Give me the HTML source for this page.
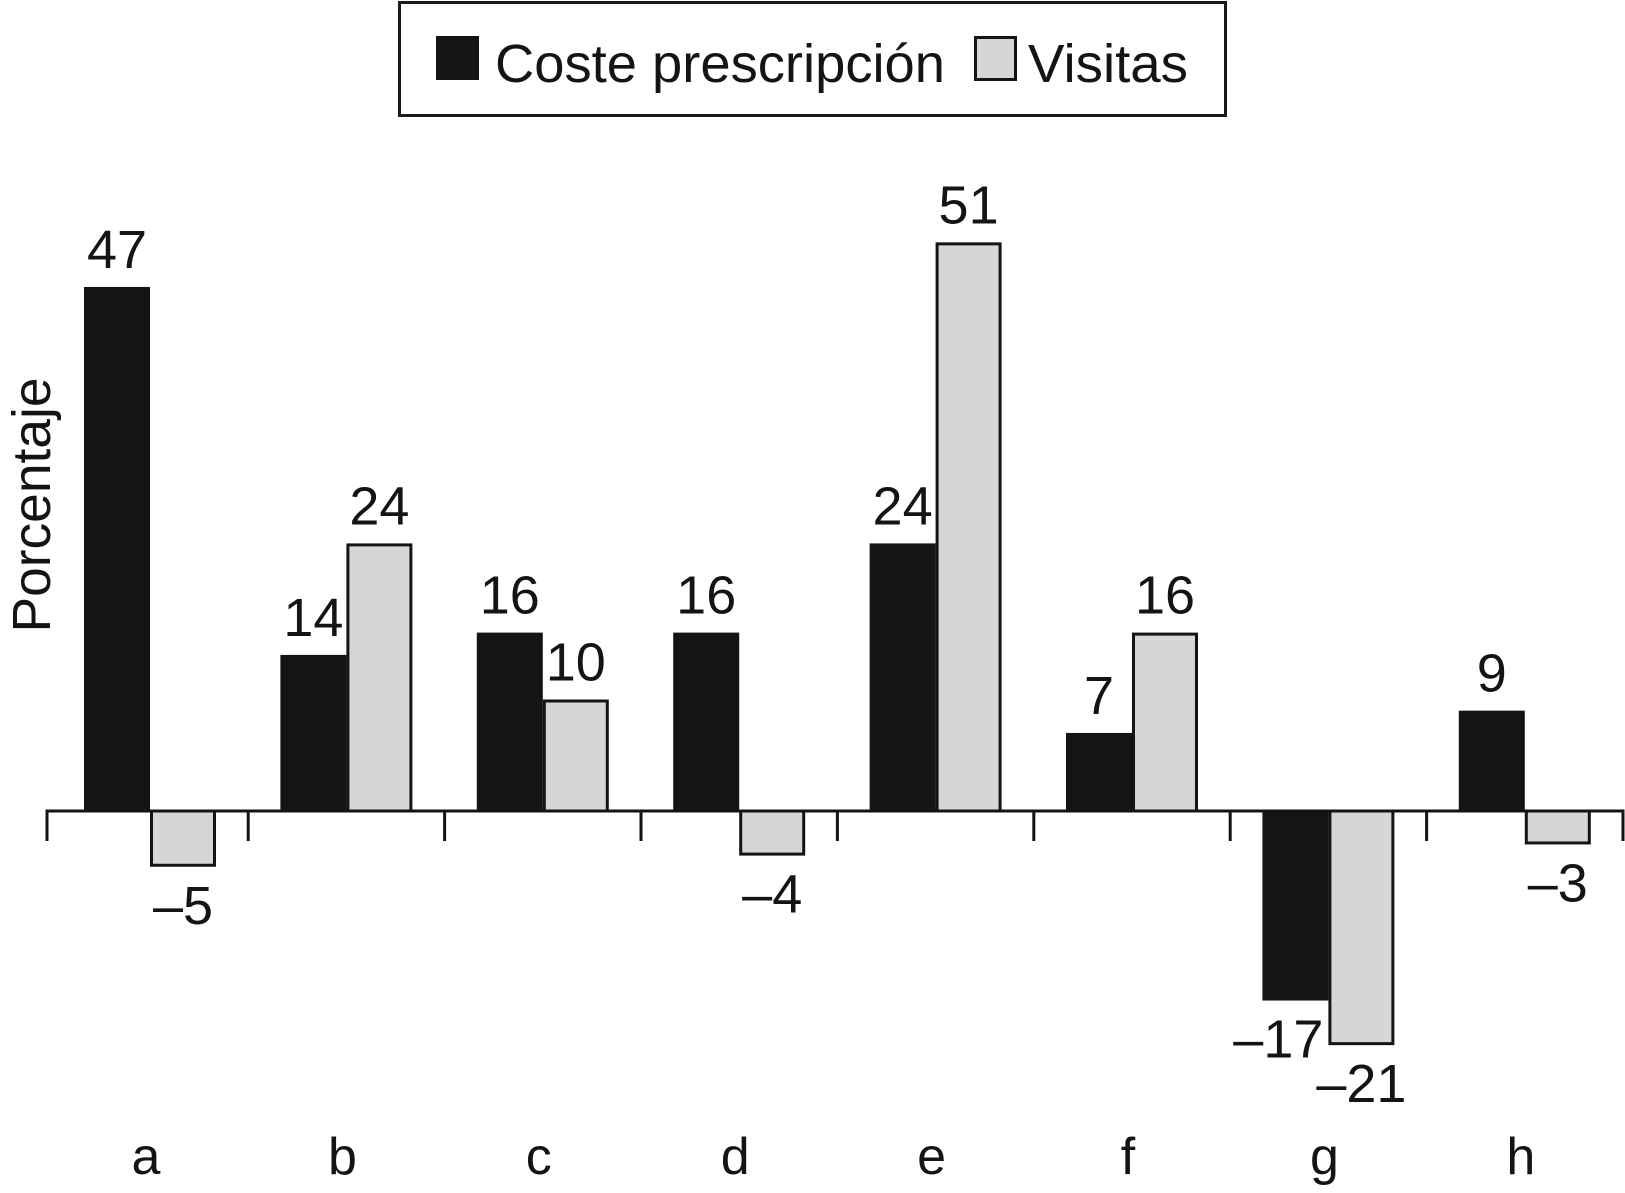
<!DOCTYPE html>
<html><head><meta charset="utf-8"><style>
html,body{margin:0;padding:0;background:#fff;}
svg{display:block;font-family:"Liberation Sans",Arial,sans-serif;}
</style></head><body>
<svg id="chart" width="1625" height="1193" viewBox="0 0 1625 1193" xmlns="http://www.w3.org/2000/svg">
<g>
<rect x="399.5" y="2.5" width="826" height="113" fill="#fff" stroke="#1a1a1a" stroke-width="3"/>
<rect x="436" y="36" width="43" height="44" fill="#141414"/>
<text x="495" y="82" font-size="54" textLength="450" lengthAdjust="spacingAndGlyphs" fill="#141414">Coste prescripción</text>
<rect x="975.5" y="37.5" width="40" height="42" fill="#d6d6d6" stroke="#141414" stroke-width="3"/>
<text x="1028" y="82" font-size="54" textLength="160" lengthAdjust="spacingAndGlyphs" fill="#141414">Visitas</text>
</g>
<text transform="translate(50,505) rotate(-90)" text-anchor="middle" font-size="54" textLength="255" lengthAdjust="spacingAndGlyphs" fill="#141414">Porcentaje</text>
<g id="plot"></g>
</svg>
<script>
const categories = ['a','b','c','d','e','f','g','h'];
const costeValues = [47,14,16,16,24,7,-17,9];
const visitasValues = [-5,24,10,-4,51,16,-21,-3];
const costeLabels = ['47','14','16','16','24','7','–17','9'];
const visitasLabels = ['–5','24','10','–4','51','16','–21','–3'];

const NS = 'http://www.w3.org/2000/svg';
const plot = document.getElementById('plot');
const zeroY = 811, pxPerUnit = 11.15;
const firstCenter = 150, step = 196.4, barW = 66;
const axisLeft = 47, axisRight = 1623;
function y(v){ return zeroY - v*pxPerUnit; }
function xc(i){ return firstCenter + i*step; }
function mk(tag, attrs){ const e=document.createElementNS(NS,tag); for(const k in attrs) e.setAttribute(k,attrs[k]); plot.appendChild(e); return e; }

function bar(i, v, series, label){
  const x = series===0 ? xc(i)-barW : xc(i);
  const top = Math.min(y(v), zeroY), h = Math.abs(y(v)-zeroY);
  let r;
  if(series===0){
    r = mk('rect',{x:x,y:top,width:barW,height:h,fill:'#141414'});
  } else {
    r = mk('rect',{x:x+1.5,y:top+(v>=0?1.5:0),width:barW-3,height:Math.max(h-1.5,0),fill:'#d6d6d6',stroke:'#141414','stroke-width':3});
  }
  
  
  const ly = v>=0 ? y(v)-19 : y(v)+57;
  let attrs = {x:x+barW/2,y:ly,'text-anchor':'middle','font-size':54,fill:'#141414'};
  if(series===0 && v<0){ attrs.x = x+barW-5; attrs['text-anchor']='end'; }
  const t = mk('text',attrs);
  t.textContent = label;
  
  
}
categories.forEach((c,i)=>{
  bar(i, costeValues[i], 0, costeLabels[i]);
  bar(i, visitasValues[i], 1, visitasLabels[i]);
  const t = mk('text',{x:xc(i)-4,y:1174,'text-anchor':'middle','font-size':52,fill:'#141414'});
  t.textContent = c;
  
  
});
const ax = mk('line',{x1:axisLeft,y1:zeroY,x2:axisRight,y2:zeroY,stroke:'#141414','stroke-width':3});


const ticks = [axisLeft];
for(let i=0;i<categories.length-1;i++) ticks.push((xc(i)+xc(i+1))/2);
ticks.push(axisRight);
ticks.forEach((tx,k)=>{
  const l = mk('line',{x1:tx,y1:zeroY-1.5,x2:tx,y2:zeroY+30,stroke:'#141414','stroke-width':3});
  
  
});
</script>
</body></html>
